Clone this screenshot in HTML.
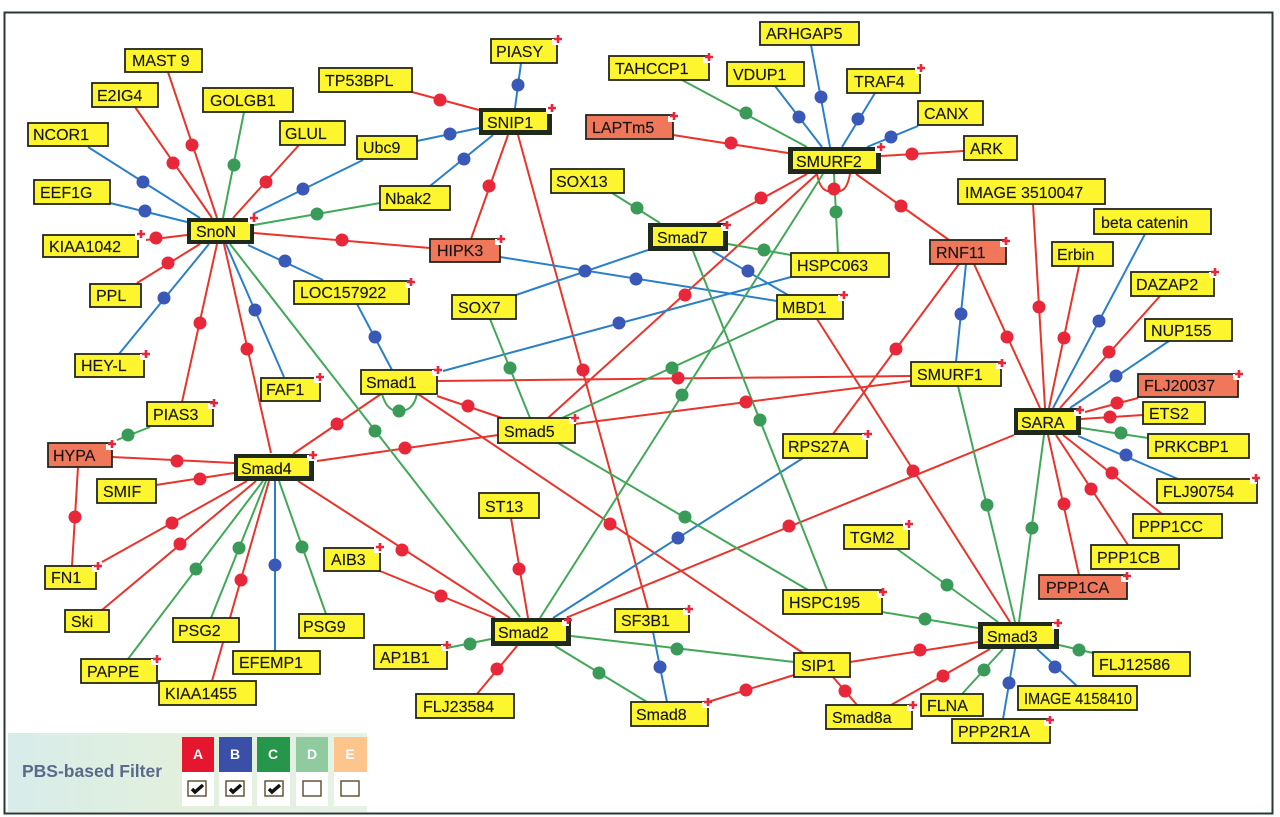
<!DOCTYPE html>
<html><head><meta charset="utf-8"><style>
html,body{margin:0;padding:0;background:#fff}
svg{display:block;filter:blur(.35px)}
text{font-family:"Liberation Sans",sans-serif;font-size:16px;fill:#151515;stroke:#151515;stroke-width:.15}
.b{fill:#fdf62e;stroke:#23261c;stroke-width:1.8}
.s{fill:#f0775a;stroke:#23261c;stroke-width:1.8}
.d{fill:#1f2a1c}.y{fill:#fdf62e}
.l{fill:none;stroke-width:2}
.o{fill:none;stroke-width:13;stroke-linecap:round}
.c{fill:#fff;stroke:#5a4a2a;stroke-width:1.4}
.k{fill:none;stroke:#111;stroke-width:3.4}
text.h{font-weight:bold;fill:#fff;stroke:none;font-size:14px;text-anchor:middle}
</style></head><body>
<svg width="1280" height="817" viewBox="0 0 1280 817" xmlns="http://www.w3.org/2000/svg">
<defs><g id="p"><rect x="-6" y="0" width="7" height="6" fill="#fff"/><path d="M-4 0H4M0 -4V4" stroke="#e8283a" stroke-width="2.6" fill="none"/></g>
<linearGradient id="g" x1="0" y1="0" x2="1" y2="0"><stop offset="0" stop-color="#d8ecea"/><stop offset=".5" stop-color="#e2f0dc"/><stop offset="1" stop-color="#e6f2e6"/></linearGradient></defs>
<rect width="1280" height="817" fill="#fff"/>
<rect x="4.5" y="12.5" width="1268" height="801" fill="#fff" stroke="#2a3a30" stroke-width="2"/>

<path class="l" stroke="#e8342a" d="M168 72L217 218M135 107L212 218M299 145L233 218M146 240L187 235M137 283L200 244M182 402L217 244M224 244L271 453M254 233L430 248M412 92L479 110M471 239L508 135M518 135L648 609M673 135L788 153M964 151L881 156M807 174L717 223M817 174L548 418M856 174L949 240M817 319L1010 622M1014 435L568 617M959 264L833 434M974 264L1040 408M911 376L437 381M911 381L575 424M498 435L317 461M437 396L502 418M381 394L293 454M418 394L803 653M112 457L234 463M156 485L234 473M78 467L72 566M102 562L247 481M102 610L256 481M212 681L269 481M298 481L510 618M380 571L495 618M511 518L528 618M477 694L517 646M708 702L794 675M850 662L978 642M833 677L857 705M891 705L990 649M1048 435L1079 575M1056 435L1128 545M1063 435L1162 514M1081 419L1143 415M1085 412L1138 398M1060 408L1160 296M1049 408L1079 266M1045 408L1033 204M817 174C820 190 826 192 834 192C842 192 847 190 850 174"/>
<path class="l" stroke="#2a80c8" d="M88 147L200 218M110 203L187 222M363 160L253 214M119 354L209 244M284 377L226 244M248 245L323 280M357 304L392 370M521 63L515 108M417 141L479 128M430 186L493 135M500 257L777 301M516 295L648 250M775 86L822 147M811 45L830 147M875 93L842 147M918 126L867 147M712 251L788 295M791 277L443 371M966 264L956 362M803 458L553 618M275 651V481M653 632L667 702M1003 719L1015 649M1077 686L1037 649M1078 436L1178 479M1070 408L1169 341M1053 408L1145 234"/>
<path class="l" stroke="#42a858" d="M244 112L223 218M380 203L254 225M230 244L520 617M612 193L660 223M682 80L807 147M834 174L838 253M823 174L540 618M728 244L791 255M693 251L827 590M778 319L562 418M958 386L1015 622M490 319L530 418M558 443L808 590M150 427L117 440M128 659L263 481M211 618L266 481M326 614L279 481M447 648L491 639M555 646L647 702M571 636L794 662M882 612L978 628M897 549L998 622M962 694L1003 649M1093 653L1059 645M1044 435L1019 622M1081 428L1148 438M382 394C386 408 392 411 399 411C407 411 414 408 417 394"/>

<path class="o" stroke="#e8283a" d="M192 145h0M173 163h0M266 182h0M156 238h0M168 263h0M200 323h0M247 349h0M342 240h0M440 100h0M489 186h0M583 370h0M731 143h0M912 154h0M761 198h0M834 189h0M685 295h0M901 206h0M913 471h0M789 526h0M896 349h0M1007 337h0M678 378h0M746 402h0M405 448h0M468 406h0M337 424h0M610 524h0M177 461h0M200 479h0M75 517h0M172 523h0M180 544h0M241 580h0M402 550h0M441 596h0M519 569h0M497 669h0M746 690h0M920 650h0M845 691h0M943 676h0M1064 504h0M1091 489h0M1112 473h0M1110 417h0M1117 403h0M1109 352h0M1064 338h0M1039 307h0"/>
<path class="o" stroke="#3a58b8" d="M143 182h0M145 211h0M303 189h0M164 298h0M255 310h0M285 261h0M375 337h0M518 85h0M450 134h0M464 159h0M636 279h0M585 271h0M799 117h0M821 97h0M858 119h0M891 137h0M748 271h0M619 323h0M961 314h0M678 538h0M275 565h0M660 667h0M1009 683h0M1055 667h0M1126 455h0M1116 376h0M1099 321h0"/>
<path class="o" stroke="#3a9a58" d="M234 165h0M317 214h0M375 431h0M637 208h0M746 113h0M836 212h0M682 395h0M764 250h0M760 420h0M672 368h0M987 505h0M510 368h0M685 517h0M128 435h0M196 569h0M239 548h0M302 547h0M470 644h0M599 673h0M677 649h0M925 619h0M947 585h0M984 670h0M1079 650h0M1032 528h0M1121 433h0M399 411h0"/>

<!-- plain boxes -->
<g>
<rect class="b" x="125" y="49" width="77" height="23"/><text x="132" y="66">MAST 9</text>
<rect class="b" x="92" y="83" width="66" height="24"/><text x="97" y="101">E2IG4</text>
<rect class="b" x="203" y="88" width="90" height="24"/><text x="210" y="106">GOLGB1</text>
<rect class="b" x="28" y="123" width="80" height="23"/><text x="33" y="140">NCOR1</text>
<rect class="b" x="280" y="121" width="65" height="24"/><text x="285" y="139">GLUL</text>
<rect class="b" x="357" y="136" width="60" height="23"/><text x="363" y="153">Ubc9</text>
<rect class="b" x="319" y="68" width="93" height="24"/><text x="325" y="86">TP53BPL</text>
<rect class="b" x="34" y="180" width="76" height="24"/><text x="40" y="198">EEF1G</text>
<rect class="b" x="380" y="186" width="70" height="24"/><text x="385" y="204">Nbak2</text>
<rect class="b" x="43" y="235" width="95" height="22"/><text x="49" y="252">KIAA1042</text>
<rect class="b" x="90" y="284" width="51" height="23"/><text x="96" y="301">PPL</text>
<rect class="b" x="294" y="281" width="115" height="23"/><text x="300" y="298">LOC157922</text>
<rect class="b" x="75" y="354" width="69" height="23"/><text x="81" y="371">HEY-L</text>
<rect class="b" x="261" y="378" width="59" height="23"/><text x="266" y="395">FAF1</text>
<rect class="b" x="361" y="370" width="76" height="24"/><text x="366" y="388">Smad1</text>
<rect class="b" x="147" y="402" width="66" height="24"/><text x="153" y="420">PIAS3</text>
<rect class="s" x="48" y="443" width="64" height="24"/><text x="53" y="461">HYPA</text>
<rect class="b" x="97" y="479" width="59" height="24"/><text x="103" y="497">SMIF</text>
<rect class="b" x="45" y="566" width="51" height="23"/><text x="51" y="583">FN1</text>
<rect class="b" x="65" y="610" width="44" height="22"/><text x="71" y="627">Ski</text>
<rect class="b" x="173" y="618" width="66" height="24"/><text x="178" y="636">PSG2</text>
<rect class="b" x="299" y="614" width="65" height="24"/><text x="303" y="632">PSG9</text>
<rect class="b" x="233" y="651" width="87" height="23"/><text x="239" y="668">EFEMP1</text>
<rect class="b" x="81" y="659" width="76" height="24"/><text x="87" y="677">PAPPE</text>
<rect class="b" x="159" y="681" width="97" height="24"/><text x="165" y="699">KIAA1455</text>
<rect class="b" x="324" y="548" width="56" height="23"/><text x="331" y="565">AIB3</text>
<rect class="b" x="374" y="645" width="73" height="24"/><text x="380" y="663">AP1B1</text>
<rect class="b" x="416" y="694" width="98" height="24"/><text x="423" y="712">FLJ23584</text>
<rect class="b" x="479" y="493" width="60" height="25"/><text x="485" y="512">ST13</text>
<rect class="b" x="615" y="609" width="74" height="23"/><text x="621" y="626">SF3B1</text>
<rect class="b" x="631" y="702" width="77" height="24"/><text x="636" y="720">Smad8</text>
<rect class="b" x="794" y="653" width="56" height="24"/><text x="801" y="671">SIP1</text>
<rect class="b" x="826" y="705" width="86" height="24"/><text x="832" y="723">Smad8a</text>
<rect class="b" x="921" y="694" width="62" height="22"/><text x="927" y="711">FLNA</text>
<rect class="b" x="952" y="719" width="98" height="24"/><text x="958" y="737">PPP2R1A</text>
<rect class="b" x="1018" y="686" width="119" height="24"/><text x="1024" y="704" textLength="108" lengthAdjust="spacingAndGlyphs">IMAGE 4158410</text>
<rect class="b" x="783" y="590" width="99" height="24"/><text x="789" y="608">HSPC195</text>
<rect class="b" x="1093" y="652" width="97" height="24"/><text x="1099" y="670">FLJ12586</text>
<rect class="b" x="844" y="525" width="65" height="24"/><text x="850" y="543">TGM2</text>
<rect class="s" x="1039" y="575" width="88" height="24"/><text x="1046" y="593">PPP1CA</text>
<rect class="b" x="1091" y="545" width="88" height="24"/><text x="1097" y="563">PPP1CB</text>
<rect class="b" x="1133" y="514" width="89" height="24"/><text x="1139" y="532">PPP1CC</text>
<rect class="b" x="1157" y="479" width="100" height="24"/><text x="1163" y="497">FLJ90754</text>
<rect class="b" x="1148" y="434" width="101" height="24"/><text x="1154" y="452">PRKCBP1</text>
<rect class="b" x="1143" y="402" width="62" height="22"/><text x="1149" y="419">ETS2</text>
<rect class="s" x="1138" y="374" width="100" height="23"/><text x="1144" y="391">FLJ20037</text>
<rect class="b" x="1145" y="319" width="87" height="22"/><text x="1151" y="336">NUP155</text>
<rect class="b" x="1131" y="272" width="83" height="24"/><text x="1136" y="290">DAZAP2</text>
<rect class="b" x="911" y="362" width="90" height="24"/><text x="917" y="380">SMURF1</text>
<rect class="s" x="930" y="240" width="76" height="24"/><text x="936" y="258">RNF11</text>
<rect class="b" x="777" y="295" width="66" height="24"/><text x="782" y="313">MBD1</text>
<rect class="b" x="791" y="253" width="98" height="24"/><text x="797" y="271">HSPC063</text>
<rect class="b" x="783" y="434" width="84" height="24"/><text x="788" y="452">RPS27A</text>
<rect class="b" x="498" y="418" width="77" height="25"/><text x="504" y="437">Smad5</text>
<rect class="b" x="452" y="295" width="64" height="24"/><text x="458" y="313">SOX7</text>
<rect class="b" x="958" y="179" width="147" height="25"/><text x="965" y="198">IMAGE 3510047</text>
<rect class="b" x="1094" y="209" width="117" height="25"/><text x="1101" y="228">beta catenin</text>
<rect class="b" x="1052" y="242" width="61" height="24"/><text x="1057" y="260">Erbin</text>
<rect class="b" x="760" y="22" width="99" height="23"/><text x="766" y="39">ARHGAP5</text>
<rect class="b" x="609" y="56" width="100" height="24"/><text x="615" y="74">TAHCCP1</text>
<rect class="b" x="727" y="62" width="77" height="24"/><text x="733" y="80">VDUP1</text>
<rect class="b" x="847" y="69" width="73" height="24"/><text x="854" y="87">TRAF4</text>
<rect class="b" x="918" y="101" width="65" height="24"/><text x="924" y="119">CANX</text>
<rect class="b" x="964" y="136" width="53" height="24"/><text x="970" y="154">ARK</text>
<rect class="s" x="586" y="115" width="87" height="24"/><text x="592" y="133">LAPTm5</text>
<rect class="b" x="551" y="169" width="73" height="24"/><text x="556" y="187">SOX13</text>
<rect class="b" x="491" y="39" width="66" height="24"/><text x="496" y="57">PIASY</text>
<rect class="s" x="430" y="239" width="70" height="23"/><text x="437" y="256">HIPK3</text>
</g>
<!-- hub boxes -->
<g>
<rect class="d" x="187" y="218" width="67" height="26"/><rect class="y" x="191" y="222" width="59" height="18"/><text x="196" y="237">SnoN</text>
<rect class="d" x="234" y="454" width="80" height="27"/><rect class="y" x="238" y="458" width="71" height="18"/><text x="241" y="474">Smad4</text>
<rect class="d" x="788" y="147" width="93" height="27"/><rect class="y" x="793" y="151" width="83" height="18"/><text x="796" y="167">SMURF2</text>
<rect class="d" x="479" y="108" width="73" height="27"/><rect class="y" x="483" y="112" width="64" height="18"/><text x="487" y="128">SNIP1</text>
<rect class="d" x="648" y="223" width="80" height="28"/><rect class="y" x="653" y="227" width="70" height="19"/><text x="657" y="243">Smad7</text>
<rect class="d" x="491" y="618" width="80" height="28"/><rect class="y" x="495" y="622" width="71" height="19"/><text x="498" y="638">Smad2</text>
<rect class="d" x="978" y="622" width="81" height="27"/><rect class="y" x="983" y="626" width="71" height="18"/><text x="987" y="642">Smad3</text>
<rect class="d" x="1014" y="408" width="67" height="27"/><rect class="y" x="1018" y="412" width="58" height="18"/><text x="1021" y="428">SARA</text>
</g>
<!-- plus marks -->
<g>
<use href="#p" x="254" y="218"/><use href="#p" x="552" y="108"/><use href="#p" x="558" y="39"/><use href="#p" x="709" y="57"/><use href="#p" x="921" y="68"/><use href="#p" x="674" y="116"/><use href="#p" x="881" y="147"/><use href="#p" x="727" y="225"/><use href="#p" x="1006" y="241"/><use href="#p" x="1215" y="272"/><use href="#p" x="1239" y="374"/><use href="#p" x="1080" y="410"/><use href="#p" x="1256" y="478"/><use href="#p" x="1127" y="576"/><use href="#p" x="883" y="592"/><use href="#p" x="1058" y="623"/><use href="#p" x="1050" y="720"/><use href="#p" x="913" y="705"/><use href="#p" x="708" y="702"/><use href="#p" x="689" y="609"/><use href="#p" x="568" y="620"/><use href="#p" x="447" y="645"/><use href="#p" x="380" y="547"/><use href="#p" x="157" y="659"/><use href="#p" x="98" y="566"/><use href="#p" x="112" y="444"/><use href="#p" x="214" y="403"/><use href="#p" x="313" y="455"/><use href="#p" x="320" y="377"/><use href="#p" x="146" y="354"/><use href="#p" x="141" y="234"/><use href="#p" x="411" y="282"/><use href="#p" x="501" y="239"/><use href="#p" x="844" y="295"/><use href="#p" x="1002" y="363"/><use href="#p" x="868" y="434"/><use href="#p" x="575" y="418"/><use href="#p" x="909" y="524"/><use href="#p" x="438" y="370"/>
</g>
<!-- filter panel -->
<rect x="8" y="733" width="359" height="79" fill="url(#g)"/>
<text x="22" y="777" style="font-size:17.5px;font-weight:bold;fill:#5b6a8a;stroke:none">PBS-based Filter</text>
<rect x="182" y="772" width="32" height="34" fill="#fff"/><rect x="219" y="772" width="33" height="34" fill="#fff"/><rect x="257" y="772" width="33" height="34" fill="#fff"/><rect x="296" y="772" width="32" height="34" fill="#fff"/><rect x="334" y="772" width="33" height="34" fill="#fff"/>
<rect x="182" y="737" width="32" height="35" fill="#e5162e"/><rect x="219" y="737" width="33" height="35" fill="#3a50a8"/><rect x="257" y="737" width="33" height="35" fill="#25964a"/><rect x="296" y="737" width="32" height="35" fill="#8fcb9f"/><rect x="334" y="737" width="33" height="35" fill="#fdc48c"/>
<text class="h" x="198" y="759">A</text><text class="h" x="235" y="759">B</text><text class="h" x="273" y="759">C</text><text class="h" x="312" y="759">D</text><text class="h" x="350" y="759">E</text>
<rect class="c" x="188" y="781" width="18" height="15"/><rect class="c" x="226" y="781" width="18" height="15"/><rect class="c" x="265" y="781" width="18" height="15"/><rect class="c" x="303" y="781" width="18" height="15"/><rect class="c" x="341" y="781" width="18" height="15"/>
<path class="k" d="M192 789L195 792L203 785M230 789L233 792L241 785M269 789L272 792L280 785"/>
</svg>
</body></html>
